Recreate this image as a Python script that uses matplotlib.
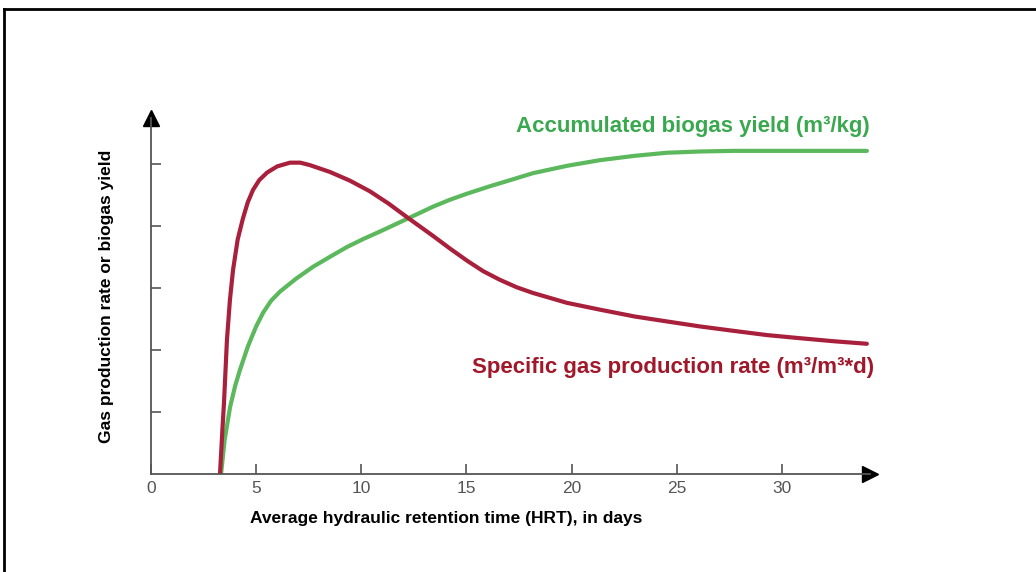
import matplotlib.pyplot as plt
from matplotlib.lines import Line2D

# values (x in days, y in tick units)
rate_x = [3.28, 3.40, 3.47, 3.61, 3.75, 3.90, 4.12, 4.37, 4.60, 4.85, 5.15, 5.52, 6.00, 6.61,
          7.10, 7.56, 8.51, 9.46, 10.4, 11.3, 12.22, 13.41, 14.2, 15.03, 15.8, 16.6, 17.4,
          18.16, 19.78, 21.35, 23.0, 24.54, 26.1, 27.67, 29.3, 30.86, 32.5, 34.05]
rate_y = [0.0, 0.75, 1.15, 2.16, 2.80, 3.29, 3.78, 4.12, 4.38, 4.58, 4.74, 4.86, 4.96, 5.02,
          5.02, 4.98, 4.87, 4.73, 4.56, 4.36, 4.13, 3.84, 3.64, 3.44, 3.27, 3.13, 3.01,
          2.92, 2.76, 2.65, 2.54, 2.46, 2.38, 2.31, 2.24, 2.19, 2.14, 2.10]

yield_x = [3.33, 3.50, 3.76, 4.00, 4.23, 4.61, 5.00, 5.33, 5.70, 6.13, 6.90, 7.70, 8.50,
           9.32, 10.1, 10.89, 12.22, 13.41, 14.2, 15.03, 16.12, 17.1, 18.16, 19.8, 21.35,
           23.0, 24.54, 26.1, 27.67, 30.86, 34.05]
yield_y = [0.0, 0.55, 1.08, 1.42, 1.68, 2.06, 2.38, 2.60, 2.79, 2.94, 3.15, 3.34, 3.50,
           3.66, 3.79, 3.91, 4.12, 4.31, 4.42, 4.52, 4.64, 4.74, 4.85, 4.97, 5.06,
           5.13, 5.18, 5.20, 5.21, 5.21, 5.21]

x_ticks = [0, 5, 10, 15, 20, 25, 30]
y_ticks = [1, 2, 3, 4, 5]

yield_label = 'Accumulated biogas yield (m³/kg)'
rate_label = 'Specific gas production rate (m³/m³*d)'

plt.rcParams['font.family'] = ['Liberation Sans', 'DejaVu Sans']

fig = plt.figure(figsize=(10.36, 5.72), dpi=100)
ax = fig.add_axes([0.1458, 0.1713, 0.694, 0.6224])

green = '#5cb85c'
red = '#a8203c'

ax.plot(yield_x, yield_y, color=green, lw=3, solid_capstyle='round')
ax.plot(rate_x, rate_y, color=red, lw=3, solid_capstyle='round')

ax.set_xlim(0, 34.2)
ax.set_ylim(0, 5.74)

for s in ['top', 'right']:
    ax.spines[s].set_visible(False)
for s in ['left', 'bottom']:
    ax.spines[s].set_color('#555555')
    ax.spines[s].set_linewidth(1.3)

# arrow heads at the end of each axis
ax.plot(1, 0, '>', color='black', ms=11, transform=ax.transAxes, clip_on=False)
ax.plot(0, 1, '^', color='black', ms=11, transform=ax.transAxes, clip_on=False)

ax.set_xticks(x_ticks)
ax.set_yticks(y_ticks)
ax.set_yticklabels([])
ax.tick_params(axis='x', direction='in', length=7, width=1.2, color='#555555',
               labelsize=12.5, labelcolor='#555555', pad=5)
ax.tick_params(axis='y', direction='in', length=7, width=1.2, color='#555555')

ax.set_xlabel('Average hydraulic retention time (HRT), in days', fontsize=12.5,
              fontweight='bold')
ax.xaxis.set_label_coords(0.41, -0.105)
ax.set_ylabel('Gas production rate or biogas yield', fontsize=12.5,
              fontweight='bold', labelpad=23)

ax.text(34.2, 5.6, yield_label, color='#3aa84f', fontsize=16, fontweight='bold',
        ha='right', va='center', clip_on=False)
ax.text(34.4, 1.71, rate_label, color='#a0182a', fontsize=16, fontweight='bold',
        ha='right', va='center', clip_on=False)

# partial frame around the picture
fig.add_artist(Line2D([0.004, 1.0], [0.985, 0.985], color='black', lw=2))
fig.add_artist(Line2D([0.004, 0.004], [0.0, 0.985], color='black', lw=2))

fig.savefig('out.png', dpi=100)
